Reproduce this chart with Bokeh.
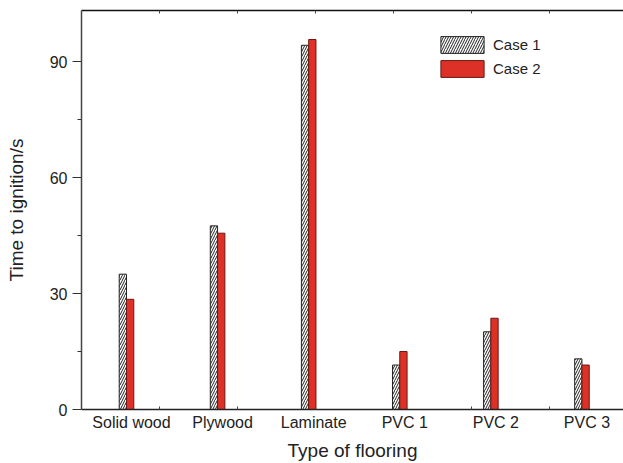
from bokeh.plotting import figure
from bokeh.models import FixedTicker, LinearAxis, Range1d, ColumnDataSource
from bokeh.transform import dodge
from bokeh.embed import file_html
from bokeh.resources import INLINE

categories = ["Solid wood", "Plywood", "Laminate", "PVC 1", "PVC 2", "PVC 3"]
case1 = [35.0, 47.5, 94.2, 11.5, 20.1, 13.1]
case2 = [28.5, 45.6, 95.7, 15.0, 23.6, 11.5]
y_ticks = [0, 30, 60, 90]
y_minor_ticks = [15, 45, 75]
x_minor_ticks = [0.307, 1.163, 2.02, 2.876, 3.732, 4.588]

FONT = "Liberation Sans"
TXT = "#222222"
RED = "#dd3127"

x = list(range(len(categories)))
src = ColumnDataSource(dict(x=x, case1=case1, case2=case2))

p = figure(width=623, height=463, output_backend="svg", toolbar_location=None,
           x_range=Range1d(-0.549, 5.401), y_range=Range1d(0, 103.2),
           min_border_left=81, min_border_right=0, min_border_top=10,
           min_border_bottom=52)
p.outline_line_color = None
p.grid.visible = False
p.background_fill_color = "white"

p.vbar(x=dodge("x", -0.095, range=p.x_range), top="case1", width=0.08, bottom=0,
       source=src, fill_color="white", line_color="#222222", line_width=1,
       hatch_pattern="/", hatch_color="#222222", hatch_scale=5, hatch_weight=1,
       legend_label="Case 1")
p.vbar(x=dodge("x", -0.015, range=p.x_range), top="case2", width=0.08, bottom=0,
       source=src, fill_color=RED, line_color="#6a1812", line_width=1,
       legend_label="Case 2")

# x axis (bottom)
xa = p.xaxis[0]
xa.ticker = FixedTicker(ticks=x, minor_ticks=x_minor_ticks)
xa.major_label_overrides = {i: c for i, c in zip(x, categories)}
xa.major_tick_line_color = None
xa.major_tick_in = 0
xa.major_tick_out = 0
xa.minor_tick_in = 3
xa.minor_tick_out = 0
xa.minor_tick_line_color = "#444444"
xa.axis_line_color = "#222222"
xa.axis_line_width = 1.5
xa.major_label_standoff = 4
xa.major_label_text_font = FONT
xa.major_label_text_font_size = "16px"
xa.major_label_text_color = TXT
xa.axis_label = "Type of flooring"
xa.axis_label_text_font = FONT
xa.axis_label_text_font_size = "19px"
xa.axis_label_text_font_style = "normal"
xa.axis_label_text_color = TXT
xa.axis_label_standoff = 6

# top border axis
ta = LinearAxis(ticker=FixedTicker(ticks=[], minor_ticks=x_minor_ticks),
                major_label_text_font_size="0px", major_tick_out=0, major_tick_in=0,
                minor_tick_in=3, minor_tick_out=0, minor_tick_line_color="#444444",
                axis_line_color="#111111", axis_line_width=1.5)
p.add_layout(ta, "above")

# y axis
ya = p.yaxis[0]
ya.ticker = FixedTicker(ticks=y_ticks, minor_ticks=y_minor_ticks)
ya.major_tick_in = 0
ya.major_tick_out = 9
ya.minor_tick_in = 0
ya.minor_tick_out = 4
ya.major_tick_line_color = "#333333"
ya.minor_tick_line_color = "#333333"
ya.axis_line_color = "#444444"
ya.axis_line_width = 1.5
ya.major_label_standoff = 5
ya.major_label_text_font = FONT
ya.major_label_text_font_size = "16px"
ya.major_label_text_color = TXT
ya.axis_label = "Time to ignition/s"
ya.axis_label_text_font = FONT
ya.axis_label_text_font_size = "19px"
ya.axis_label_text_font_style = "normal"
ya.axis_label_text_color = TXT
ya.axis_label_standoff = 20

lg = p.legend[0]
lg.location = (354, 330)
lg.border_line_color = None
lg.background_fill_alpha = 0
lg.padding = 0
lg.margin = 0
lg.spacing = 3
lg.glyph_width = 54
lg.glyph_height = 21
lg.label_height = 21
lg.label_standoff = 4
lg.label_text_font = FONT
lg.label_text_font_size = "15px"
lg.label_text_color = TXT

open("out.html", "w").write(file_html(p, INLINE))
